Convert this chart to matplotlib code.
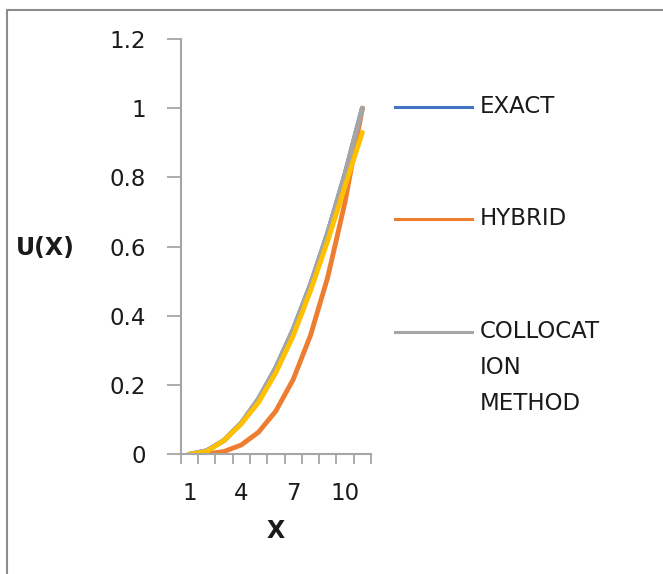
import matplotlib
matplotlib.use("Agg")
import matplotlib.pyplot as plt
from matplotlib.lines import Line2D
from matplotlib.patches import Rectangle

# ── Data
x_cats = [1, 2, 3, 4, 5, 6, 7, 8, 9, 10, 11]
x_labels = ["1", "4", "7", "10"]
exact = [0, 0.01, 0.04, 0.09, 0.16, 0.25, 0.36, 0.49, 0.64, 0.81, 1.0]
hybrid = [0, 0.001, 0.008, 0.027, 0.064, 0.125, 0.216, 0.343, 0.512, 0.729, 1.0]
colloc = [0, 0.01, 0.04, 0.09, 0.16, 0.25, 0.36, 0.49, 0.64, 0.81, 1.0]
extra = [0, 0.008, 0.04, 0.088, 0.15, 0.236, 0.342, 0.472, 0.617, 0.775, 0.93]
y_ticks = [0, 0.2, 0.4, 0.6, 0.8, 1.0, 1.2]
y_labels = ["0", "0.2", "0.4", "0.6", "0.8", "1", "1.2"]

series = [
    ("EXACT", exact, "#4472C4"),
    ("HYBRID", hybrid, "#ED7D31"),
    ("COLLOCAT\nION\nMETHOD", colloc, "#A5A5A5"),
    (None, extra, "#FFC000"),
]

AXIS_GRAY = "#A6A6A6"
TXT = "#1A1A1A"
FS = 16.5
plt.rcParams["font.family"] = "DejaVu Sans"

fig = plt.figure(figsize=(6.63, 5.74), dpi=100)
W, H = 663, 574

# chart border (cropped Excel frame)
fig.add_artist(Rectangle((7 / W, -0.1), 1.2, (H - 10) / H + 0.1,
                         transform=fig.transFigure, fill=False,
                         edgecolor="#8C8C8C", lw=1.5))

ax = fig.add_axes([180.7 / W, 1 - 454.3 / H, (371 - 180.7) / W, (454.3 - 39) / H])

for name, vals, col in series:
    ax.plot(x_cats, vals, color=col, lw=3.5, solid_capstyle="round")

ax.set_xlim(0.5, 11.5)
ax.set_ylim(0, 1.2)

ax.spines["top"].set_visible(False)
ax.spines["right"].set_visible(False)
for s in ("left", "bottom"):
    ax.spines[s].set_color(AXIS_GRAY)
    ax.spines[s].set_linewidth(1.5)

ax.set_yticks(y_ticks)
ax.set_yticklabels(y_labels)
ax.tick_params(axis="y", length=10, width=1.3, color=AXIS_GRAY, pad=15,
               labelsize=FS, labelcolor=TXT)

ax.set_xticks([1, 4, 7, 10])
ax.set_xticklabels(x_labels)
ax.set_xticks([c - 0.5 for c in x_cats] + [x_cats[-1] + 0.5], minor=True)
ax.tick_params(axis="x", which="major", length=0, pad=20,
               labelsize=FS, labelcolor=TXT)
ax.tick_params(axis="x", which="minor", length=7, width=1.3, color=AXIS_GRAY)

# axis titles
fig.text(16 / W, 1 - 248 / H, "U(X)", fontsize=17, fontweight="bold",
         ha="left", va="center", color=TXT)
fig.text(276 / W, 1 - 531 / H, "X", fontsize=17, fontweight="bold",
         ha="center", va="center", color=TXT)

# legend, drawn by hand to keep Excel's spacing
leg_y = [107, 219, 332]
for (name, vals, col), y in zip(series[:3], leg_y):
    fig.add_artist(Line2D([395 / W, 472 / W], [1 - y / H, 1 - y / H],
                          transform=fig.transFigure, color=col, lw=2.2))
    fig.text(480 / W, 1 - (y - 12) / H, name, fontsize=FS, ha="left",
             va="top", color=TXT, linespacing=1.72)

fig.savefig("out.png", dpi=100)
